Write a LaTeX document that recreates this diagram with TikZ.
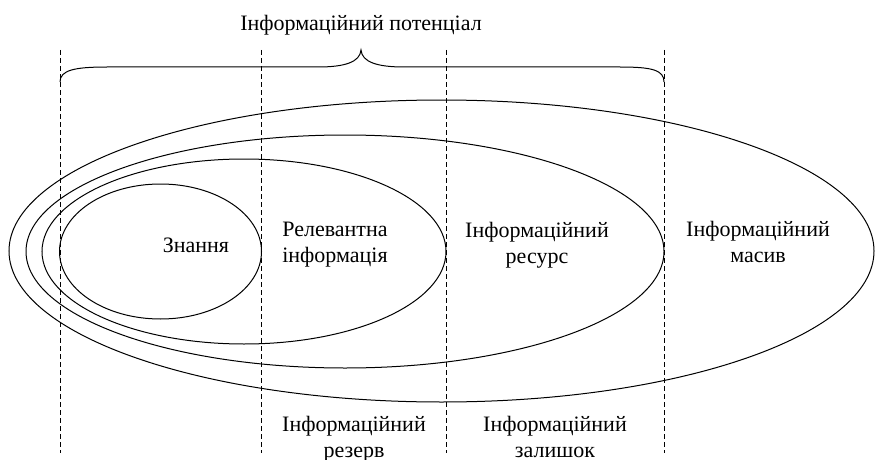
\documentclass[tikz,border=0pt]{standalone}
\usepackage{fontspec}
\setmainfont{Liberation Serif}
\begin{document}
\begin{tikzpicture}[x=1pt,y=-1pt,
  lbl/.style={inner sep=0pt,align=center,font=\fontsize{22}{26}\selectfont},
  guide/.style={dash pattern=on 5pt off 3pt,line width=0.8pt},
  oval/.style={line width=1pt},
  bracepath/.style={line width=1pt}]
\useasboundingbox (0,0) rectangle (875,460);
% dashed guide lines
\foreach \n/\xx in {a/60,b/261,c/446,d/664}{
  \coordinate (\n top) at (\xx,50);
  \coordinate (\n bot) at (\xx,453);
  \draw[guide] (\n top) -- (\n bot);
}
% brace
\coordinate (brL) at (60,82);
\coordinate (brR) at (664,82);
\coordinate (brT) at (361,50);
\draw[bracepath] (brL) .. controls (60,70) and (75,67) .. (107,67) -- (318,67)
  .. controls (345,67) and (360,62) .. (brT)
  .. controls (362,62) and (377,67) .. (404,67) -- (620,67)
  .. controls (652,67) and (664,70) .. (brR);
% ellipses
\draw[oval] (160.5,251.5) ellipse [x radius=101pt, y radius=67.5pt];
\draw[oval] (244,251.5) ellipse [x radius=202pt, y radius=92.5pt];
\draw[oval] (345,251.5) ellipse [x radius=319pt, y radius=116.5pt];
\draw[oval] (441.5,251) ellipse [x radius=432.5pt, y radius=151pt];
% labels
\node[lbl] (pot) at (361,25) {Інформаційний потенціал};
\node[lbl] (zn) at (196,245.7) {Знання};
\node[lbl] (rel) at (335,245) {Релевантна\\інформація};
\node[lbl] (res) at (537,245) {Інформаційний\\ресурс};
\node[lbl] (mas) at (758,242) {Інформаційний\\масив};
\node[lbl] (rez) at (354,439.4) {Інформаційний\\резерв};
\node[lbl] (zal) at (555,437) {Інформаційний\\залишок};
\end{tikzpicture}
\end{document}
